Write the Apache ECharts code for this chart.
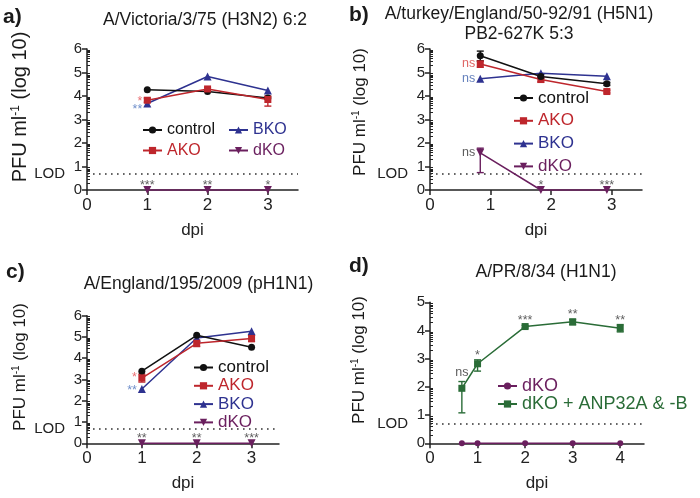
<!DOCTYPE html>
<html><head><meta charset="utf-8">
<script src="https://cdn.jsdelivr.net/npm/echarts@6/dist/echarts.min.js"></script>
<style>html,body{margin:0;padding:0;background:#fff}#c{width:700px;height:498px}</style>
</head><body><div id="c"></div>
<script>
// ---------- data ----------
const LOD = 0.7;
const yTicksABC = [0, 1, 2, 3, 4, 5, 6];
const yTicksD = [0, 1, 2, 3, 4, 5];
const xTicksABC = [0, 1, 2, 3];
const xTicksD = [0, 1, 2, 3, 4];

// panel a: A/Victoria/3/75 (H3N2) 6:2
const aDpi = [1, 2, 3];
const aControl = [4.27, 4.19, 3.92];
const aAKO = [3.82, 4.30, 3.85];
const aAKOLow = [3.73, 4.23, 3.57];
const aAKOHigh = [3.91, 4.37, 4.00];
const aBKO = [3.68, 4.83, 4.23];
const aDKO = [0, 0, 0];
const aSigAKO = ['*', '', ''];
const aSigBKO = ['**', '', ''];
const aSigDKO = ['***', '**', '*'];

// panel b: A/turkey/England/50-92/91 (H5N1) PB2-627K 5:3
const bDpi = [0.83, 1.83, 2.92];
const bControl = [5.71, 4.83, 4.52];
const bControlLow = [5.50, 4.75, 4.45];
const bControlHigh = [5.91, 4.92, 4.58];
const bAKO = [5.36, 4.70, 4.19];
const bAKOLow = [5.22, 4.60, 4.13];
const bAKOHigh = [5.48, 4.80, 4.25];
const bBKO = [4.73, 4.97, 4.84];
const bDKO = [1.58, 0, 0];
const bDKOLow = [0.74, null, null];
const bDKOHigh = [1.78, null, null];
const bSigAKO = ['ns', '', ''];
const bSigBKO = ['ns', '', ''];
const bSigDKOLeft = ['ns', '', ''];
const bSigDKOTop = ['', '*', '***'];

// panel c: A/England/195/2009 (pH1N1)
const cDpi = [1, 2, 3];
const cControl = [3.39, 5.08, 4.52];
const cAKO = [3.07, 4.70, 4.93];
const cAKOLow = [2.88, 4.55, 4.78];
const cAKOHigh = [3.25, 4.85, 5.08];
const cBKO = [2.55, 4.95, 5.27];
const cDKO = [0, 0, 0];
const cSigAKO = ['*', '', ''];
const cSigBKO = ['**', '', ''];
const cSigDKO = ['**', '**', '***'];

// panel d: A/PR/8/34 (H1N1)
const dDpi = [0.67, 1, 2, 3, 4];
const dDKO = [0, 0, 0, 0, 0];
const dRescue = [1.95, 2.82, 4.14, 4.31, 4.08];
const dRescueLow = [1.08, 2.56, 4.09, 4.20, 3.95];
const dRescueHigh = [2.19, 2.96, 4.18, 4.39, 4.21];
const dSig = ['ns', '*', '***', '**', '**'];

// minor (log) tick positions for the y axes
const minorFractions = [0.301, 0.477, 0.602, 0.699, 0.778, 0.845, 0.903, 0.954];

// ---------- styles ----------
const FONT = "'Liberation Sans', Arial, Helvetica, sans-serif";
const C_CTRL = '#111111', C_AKO = '#be262c', C_BKO = '#2e3290', C_DKO = '#6a1f5e', C_GRN = '#2a6c37';
const C_AXIS = '#222222';

const grids = [
  {left: 87, right: 402, top: 49, bottom: 308},
  {left: 430, right: 58, top: 49, bottom: 308},
  {left: 87, right: 421, top: 315.7, bottom: 54.7},
  {left: 430, right: 56, top: 302.3, bottom: 54.7}
];
const yMax = [6, 6, 6, 5];
const xMax = [3.5, 3.5, 3.5, 4.5];
const xTicks = [xTicksABC, xTicksABC, xTicksABC, xTicksD];
const yTicks = [yTicksABC, yTicksABC, yTicksABC, yTicksD];

function minorVals(max) {
  const v = [];
  for (let i = 0; i < max; i++) minorFractions.forEach(f => v.push(i + f));
  return v;
}

const xAxes = grids.map((g, i) => ({
  type: 'value', gridIndex: i, min: 0, max: xMax[i],
  name: 'dpi', nameLocation: 'middle', nameGap: 32,
  nameTextStyle: {fontSize: 17, color: C_AXIS, fontFamily: FONT},
  axisLine: {show: true, onZero: false, lineStyle: {color: C_AXIS, width: 1.5}},
  axisTick: {show: true, length: 5, customValues: xTicks[i], lineStyle: {color: C_AXIS, width: 1.5}},
  axisLabel: {customValues: xTicks[i], fontSize: 17, color: C_AXIS, fontFamily: FONT, margin: 7},
  splitLine: {show: false}
}));
const yAxes = grids.map((g, i) => ({
  type: 'value', gridIndex: i, min: 0, max: yMax[i], interval: 1,
  axisLine: {show: true, onZero: false, lineStyle: {color: C_AXIS, width: 1.5}},
  axisTick: {show: true, length: 5, customValues: yTicks[i], lineStyle: {color: C_AXIS, width: 1.5}},
  axisLabel: {customValues: yTicks[i], fontSize: 15, color: C_AXIS, fontFamily: FONT, margin: 5},
  splitLine: {show: false}
})).concat(grids.map((g, i) => ({
  type: 'value', gridIndex: i, min: 0, max: yMax[i],
  axisLine: {show: false},
  axisTick: {show: true, length: 3, customValues: minorVals(yMax[i]), lineStyle: {color: C_AXIS, width: 1}},
  axisLabel: {show: false},
  splitLine: {show: false}
})));

function lineSeries(name, gi, xs, ys, color, symbol, size, rotate) {
  return {
    type: 'line', name: name, xAxisIndex: gi, yAxisIndex: gi,
    data: xs.map((x, i) => [x, ys[i]]),
    symbol: symbol, symbolSize: size, symbolRotate: rotate || 0, showSymbol: true,
    lineStyle: {color: color, width: 1.5}, itemStyle: {color: color},
    z: 5, clip: false, animation: false
  };
}
function errSeries(gi, xs, lo, hi, color) {
  const data = [];
  xs.forEach((x, i) => { if (lo[i] != null) data.push([x, lo[i], hi[i]]); });
  return {
    type: 'custom', xAxisIndex: gi, yAxisIndex: gi, data: data, z: 4, silent: true,
    animation: false, encode: {x: 0, y: [1, 2]},
    renderItem: function (params, api) {
      const x = api.value(0);
      const p1 = api.coord([x, api.value(1)]), p2 = api.coord([x, api.value(2)]);
      const w = 3.5, st = {stroke: color, lineWidth: 1.4};
      return {type: 'group', children: [
        {type: 'line', shape: {x1: p1[0], y1: p1[1], x2: p2[0], y2: p2[1]}, style: st},
        {type: 'line', shape: {x1: p1[0] - w, y1: p1[1], x2: p1[0] + w, y2: p1[1]}, style: st},
        {type: 'line', shape: {x1: p2[0] - w, y1: p2[1], x2: p2[0] + w, y2: p2[1]}, style: st}
      ]};
    }
  };
}
function sigSeries(gi, xs, anchor, sig, color, pos, dy) {
  return {
    type: 'scatter', xAxisIndex: gi, yAxisIndex: gi, symbolSize: 0, silent: true, z: 7,
    animation: false, clip: false,
    data: xs.map((x, i) => ({
      value: [x, anchor[i]],
      label: {
        show: !!sig[i], formatter: sig[i] || '', position: pos, offset: [0, dy || 0],
        distance: pos === 'top' ? (sig[i].indexOf('*') >= 0 ? -2 : 2.5) : 5
      }
    })),
    label: {fontSize: 12.5, color: color, fontFamily: FONT}
  };
}
function lodLine(gi) {
  return {
    type: 'line', xAxisIndex: gi, yAxisIndex: gi, data: [], silent: true, animation: false,
    markLine: {
      silent: true, symbol: 'none', animation: false,
      lineStyle: {color: '#333', width: 1.6, type: [1.6, 4.4]},
      label: {show: true, position: 'start', formatter: 'LOD', distance: 22, fontSize: 15, color: C_AXIS, fontFamily: FONT},
      data: [{yAxis: LOD}]
    }
  };
}
function hiOrY(ys, hi) { return ys.map((y, i) => (hi && hi[i] != null) ? hi[i] : y); }

const series = [
  // panel a
  lodLine(0),
  errSeries(0, aDpi, aAKOLow, aAKOHigh, C_AKO),
  lineSeries('BKO', 0, aDpi, aBKO, C_BKO, 'triangle', 8),
  lineSeries('control', 0, aDpi, aControl, C_CTRL, 'circle', 7),
  lineSeries('AKO', 0, aDpi, aAKO, C_AKO, 'rect', 7),
  lineSeries('dKO', 0, aDpi, aDKO, C_DKO, 'triangle', 8, 180),
  sigSeries(0, aDpi, aAKO, aSigAKO, '#e5484d', 'left', 1),
  sigSeries(0, aDpi, aBKO, aSigBKO, '#4a72bd', 'left', 6),
  sigSeries(0, aDpi, aDKO, aSigDKO, '#333', 'top'),
  // panel b
  lodLine(1),
  errSeries(1, bDpi, bControlLow, bControlHigh, C_CTRL),
  errSeries(1, bDpi, bAKOLow, bAKOHigh, C_AKO),
  errSeries(1, bDpi, bDKOLow, bDKOHigh, C_DKO),
  lineSeries('BKO', 1, bDpi, bBKO, C_BKO, 'triangle', 8),
  lineSeries('AKO', 1, bDpi, bAKO, C_AKO, 'rect', 7),
  lineSeries('control', 1, bDpi, bControl, C_CTRL, 'circle', 7),
  lineSeries('dKO', 1, bDpi, bDKO, C_DKO, 'triangle', 8, 180),
  sigSeries(1, bDpi, bAKO, bSigAKO, '#d8403f', 'left'),
  sigSeries(1, bDpi, bBKO, bSigBKO, '#3f62ad', 'left'),
  sigSeries(1, bDpi, bDKO, bSigDKOLeft, '#333', 'left'),
  sigSeries(1, bDpi, bDKO, bSigDKOTop, '#333', 'top'),
  // panel c
  lodLine(2),
  errSeries(2, cDpi, cAKOLow, cAKOHigh, C_AKO),
  lineSeries('BKO', 2, cDpi, cBKO, C_BKO, 'triangle', 8),
  lineSeries('control', 2, cDpi, cControl, C_CTRL, 'circle', 7),
  lineSeries('AKO', 2, cDpi, cAKO, C_AKO, 'rect', 7),
  lineSeries('dKO', 2, cDpi, cDKO, C_DKO, 'triangle', 8, 180),
  sigSeries(2, cDpi, cAKO, cSigAKO, '#e5484d', 'left'),
  sigSeries(2, cDpi, cBKO, cSigBKO, '#4a72bd', 'left', 1),
  sigSeries(2, cDpi, cDKO, cSigDKO, '#333', 'top'),
  // panel d
  lodLine(3),
  errSeries(3, dDpi, dRescueLow, dRescueHigh, C_GRN),
  lineSeries('dKO + ANP32A & -B', 3, dDpi, dRescue, C_GRN, 'rect', 7),
  lineSeries('dKO ', 3, dDpi, dDKO, C_DKO, 'circle', 6),
  sigSeries(3, dDpi, hiOrY(dRescue, dRescueHigh), dSig, '#333', 'top')
];

function legendItem(name, color) { return {name: name, textStyle: {color: color}}; }
function legend(left, top, gap, size, items) {
  return {
    orient: 'vertical', selectedMode: false, itemWidth: 19, itemHeight: 9, padding: 0,
    left: left, top: top, itemGap: gap, textStyle: {fontFamily: FONT, fontSize: size},
    data: items
  };
}
const legends = [
  legend(142, 122, 4.5, 16, [legendItem('control', C_CTRL), legendItem('AKO', C_AKO)]),
  legend(228, 122, 4.5, 16, [legendItem('BKO', C_BKO), legendItem('dKO', C_DKO)]),
  legend(513, 89.5, 5.8, 17, [legendItem('control', C_CTRL), legendItem('AKO', C_AKO), legendItem('BKO', C_BKO), legendItem('dKO', C_DKO)]),
  legend(193, 359, 1.3, 17, [legendItem('control', C_CTRL), legendItem('AKO', C_AKO), legendItem('BKO', C_BKO), legendItem('dKO', C_DKO)]),
  legend(497, 377, 0, 18, [legendItem('dKO ', C_DKO), legendItem('dKO + ANP32A & -B', C_GRN)])
];

function titleText(x, y, text, size) {
  return {type: 'text', x: x, y: y, silent: true, style: {
    text: text, textAlign: 'center', textVerticalAlign: 'middle', fill: '#1a1a1a',
    fontSize: size, fontFamily: FONT, fontWeight: 'normal', lineHeight: 20.5}};
}
function panelLabel(x, y, text) {
  return {type: 'text', x: x, y: y, silent: true, style: {
    text: text, textAlign: 'left', textVerticalAlign: 'middle', fill: '#1a1a1a',
    fontSize: 21, fontFamily: 'Arial, ' + FONT, fontWeight: 'bold'}};
}
function yName(x, y, size) {
  return {type: 'text', x: x, y: y, rotation: Math.PI / 2, silent: true, style: {
    text: '{n|PFU ml}{s|-1}{n| (log 10)}', textAlign: 'center', textVerticalAlign: 'middle', fill: '#1a1a1a',
    fontFamily: FONT,
    rich: {
      n: {fontSize: size, fontFamily: FONT, fill: '#1a1a1a', verticalAlign: 'bottom', lineHeight: size},
      s: {fontSize: Math.round(size * 0.6), fontFamily: FONT, fill: '#1a1a1a', verticalAlign: 'top',
          lineHeight: Math.round(size * 0.6), padding: [0, 0, Math.round(size * 0.55), 0]}
    }}};
}

const graphics = [
  panelLabel(3, 17, 'a)'), panelLabel(349, 15, 'b)'), panelLabel(6, 272, 'c)'), panelLabel(349, 266, 'd)'),
  titleText(205, 20, 'A/Victoria/3/75 (H3N2) 6:2', 17.5),
  titleText(519, 24, 'A/turkey/England/50-92/91 (H5N1)\nPB2-627K 5:3', 17.5),
  titleText(198.5, 284, 'A/England/195/2009 (pH1N1)', 17.5),
  titleText(546, 272, 'A/PR/8/34 (H1N1)', 17.5),
  yName(20, 107, 20), yName(360, 112, 17), yName(20, 367, 17), yName(359, 360, 17)
];

const chart = echarts.init(document.getElementById('c'), null, {renderer: 'canvas'});
chart.setOption({
  animation: false,
  backgroundColor: '#ffffff',
  textStyle: {fontFamily: FONT},
  grid: grids,
  xAxis: xAxes,
  yAxis: yAxes,
  legend: legends,
  graphic: graphics,
  series: series
});
</script>
</body></html>
